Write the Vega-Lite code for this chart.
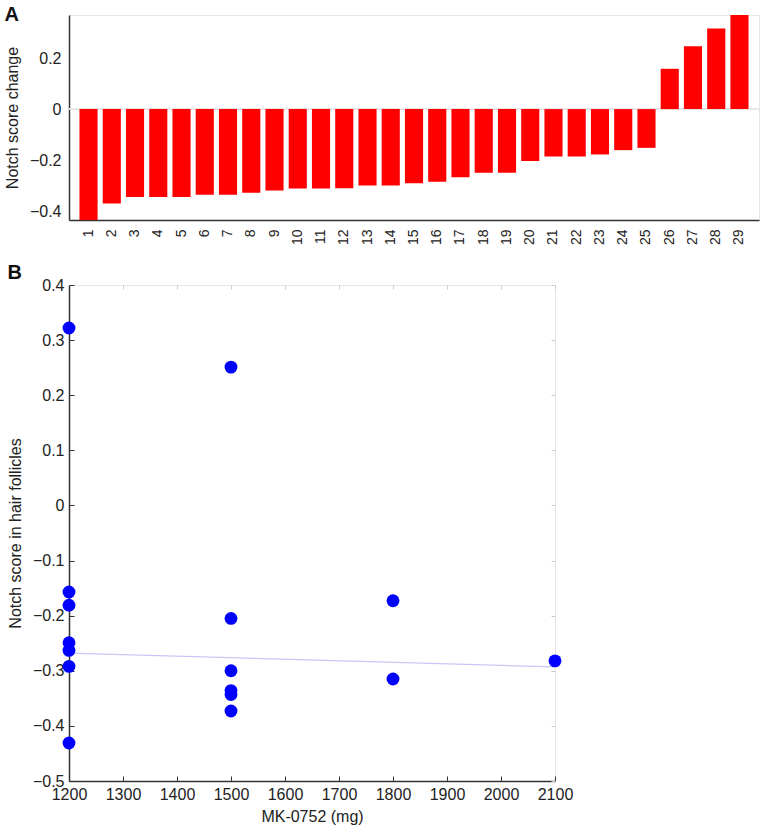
{
  "$schema": "https://vega.github.io/schema/vega-lite/v6.json",
  "padding": {"left": 3, "top": 4, "right": 0, "bottom": 0},
  "background": "white",
  "spacing": 16,
  "config": {
    "font": "Liberation Sans",
    "view": {"stroke": null},
    "axis": {
      "labelFont": "Liberation Sans", "titleFont": "Liberation Sans",
      "labelColor": "#222", "titleColor": "#222", "titleFontWeight": "normal",
      "labelFontSize": 16, "titleFontSize": 16, "domainColor": "#333", "tickColor": "#333", "grid": false
    },
    "title": {"fontSize": 20, "fontWeight": "bold", "anchor": "start", "frame": "bounds", "color": "#111", "font": "Liberation Sans"}
  },
  "vconcat": [
    {
      "title": {"text": "A", "offset": -10},
      "width": 690,
      "height": 205,
      "view": {"stroke": "#e6e6e6"},
      "data": {"values": [
        {"patient": "1", "change": -0.435}, {"patient": "2", "change": -0.37}, {"patient": "3", "change": -0.345},
        {"patient": "4", "change": -0.345}, {"patient": "5", "change": -0.345}, {"patient": "6", "change": -0.336},
        {"patient": "7", "change": -0.336}, {"patient": "8", "change": -0.328}, {"patient": "9", "change": -0.319},
        {"patient": "10", "change": -0.311}, {"patient": "11", "change": -0.311}, {"patient": "12", "change": -0.31},
        {"patient": "13", "change": -0.30}, {"patient": "14", "change": -0.30}, {"patient": "15", "change": -0.291},
        {"patient": "16", "change": -0.285}, {"patient": "17", "change": -0.267}, {"patient": "18", "change": -0.25},
        {"patient": "19", "change": -0.25}, {"patient": "20", "change": -0.204}, {"patient": "21", "change": -0.186},
        {"patient": "22", "change": -0.186}, {"patient": "23", "change": -0.178}, {"patient": "24", "change": -0.161},
        {"patient": "25", "change": -0.152}, {"patient": "26", "change": 0.158}, {"patient": "27", "change": 0.246},
        {"patient": "28", "change": 0.316}, {"patient": "29", "change": 0.369}
      ]},
      "layer": [
        {
          "mark": {"type": "rule", "color": "#e6e6e6", "strokeWidth": 1},
          "encoding": {"y": {"datum": 0, "type": "quantitative"}}
        },
        {
          "mark": {"type": "bar", "color": "#ff0000"},
          "encoding": {
            "x": {"field": "patient", "type": "ordinal", "sort": null,
                  "scale": {"paddingInner": 0.22, "paddingOuter": 0.45},
                  "axis": {"title": null, "labelAngle": -90, "labelFontSize": 14, "ticks": false, "labelPadding": 9, "domainWidth": 1.5}},
            "y": {"field": "change", "type": "quantitative",
                  "scale": {"domain": [-0.435, 0.369], "nice": false, "zero": false},
                  "axis": {"title": "Notch score change", "values": [-0.4, -0.2, 0, 0.2], "format": ".1~f", "ticks": false, "labelPadding": 8, "domainWidth": 1.5, "titlePadding": 9}},
            "y2": {"datum": 0}
          }
        }
      ]
    },
    {
      "title": {"text": "B", "offset": -6},
      "width": 486,
      "height": 496,
      "view": {"stroke": "#e6e6e6"},
      "resolve": {"axis": {"x": "independent", "y": "independent"}},
      "layer": [
        {
          "mark": {"type": "rule", "color": "#e6e6e6", "strokeWidth": 1},
          "encoding": {"y": {"datum": 0, "type": "quantitative", "axis": null}}
        },
        {
          "data": {"values": [{"dose": 1200, "fit": -0.268}, {"dose": 2100, "fit": -0.293}]},
          "mark": {"type": "line", "color": "#c8c8f8", "strokeWidth": 1.3},
          "encoding": {
            "x": {"field": "dose", "type": "quantitative",
                  "axis": {"orient": "top", "title": null, "labels": false, "domain": false, "tickColor": "#cccccc", "tickSize": -4, "values": [1200, 1300, 1400, 1500, 1600, 1700, 1800, 1900, 2000, 2100]}},
            "y": {"field": "fit", "type": "quantitative",
                  "axis": {"orient": "right", "title": null, "labels": false, "domain": false, "tickColor": "#cccccc", "tickSize": -4, "values": [-0.5, -0.4, -0.3, -0.2, -0.1, 0, 0.1, 0.2, 0.3, 0.4]}}
          }
        },
        {
          "data": {"values": [
            {"dose": 1200, "score": 0.322}, {"dose": 1200, "score": -0.157}, {"dose": 1200, "score": -0.181},
            {"dose": 1200, "score": -0.249}, {"dose": 1200, "score": -0.263}, {"dose": 1200, "score": -0.292},
            {"dose": 1200, "score": -0.431},
            {"dose": 1500, "score": 0.251}, {"dose": 1500, "score": -0.205}, {"dose": 1500, "score": -0.300},
            {"dose": 1500, "score": -0.336}, {"dose": 1500, "score": -0.343}, {"dose": 1500, "score": -0.373},
            {"dose": 1800, "score": -0.173}, {"dose": 1800, "score": -0.315},
            {"dose": 2100, "score": -0.282}
          ]},
          "mark": {"type": "circle", "color": "#0000ff", "opacity": 1, "size": 165},
          "encoding": {
            "x": {"field": "dose", "type": "quantitative",
                  "scale": {"domain": [1200, 2100], "nice": false, "zero": false},
                  "axis": {"orient": "bottom", "title": "MK-0752 (mg)", "values": [1200, 1300, 1400, 1500, 1600, 1700, 1800, 1900, 2000, 2100], "format": "d", "labelFlush": false, "tickSize": -5, "labelPadding": 10, "domainWidth": 1.5, "titlePadding": 6}},
            "y": {"field": "score", "type": "quantitative",
                  "scale": {"domain": [-0.5, 0.4], "nice": false, "zero": false},
                  "axis": {"orient": "left", "title": "Notch score in hair follicles", "values": [-0.5, -0.4, -0.3, -0.2, -0.1, 0, 0.1, 0.2, 0.3, 0.4], "format": ".1~f", "labelFlush": false, "tickSize": -5, "labelPadding": 10, "domainWidth": 1.5, "titlePadding": 9}}
          }
        }
      ]
    }
  ]
}
